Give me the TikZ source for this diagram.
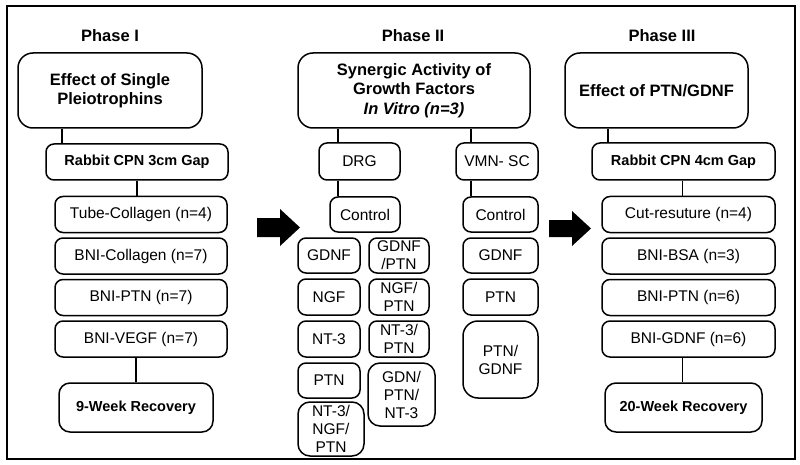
\documentclass[tikz,border=0pt]{standalone}
\usepackage{fontspec}
\setmainfont{Liberation Sans}
\begin{document}
\begin{tikzpicture}[x=1pt,y=-1pt,
  box/.style={draw, line width=1.5pt, rounded corners=8pt, inner sep=0pt, align=center,
    font=\fontsize{15.5}{18}\selectfont},
  bbox/.style={box, font=\bfseries\fontsize{14.5}{17.5}\selectfont},
  titlebox/.style={box, rounded corners=15pt, font=\bfseries\fontsize{16.5}{19.5}\selectfont},
  phase/.style={inner sep=0pt, font=\bfseries\fontsize{16.5}{19.5}\selectfont},
  link/.style={line width=1.8pt},
  blockarrow/.style={fill=black}]
\useasboundingbox (0,0) rectangle (800,465);
\draw[line width=2pt] (7,6) rectangle (795,459);

% Phase I
\node[phase] (ph1) at (110,36) {Phase I};
\node[titlebox, minimum width=184pt, minimum height=75pt] (t1) at (110,90.5) {Effect of Single\\Pleiotrophins};
\node[bbox, minimum width=182pt, minimum height=36pt] (r1) at (137,162) {Rabbit CPN 3cm Gap};
\node[box, minimum width=172pt, minimum height=36pt] (a1) at (141,214.5) {Tube-Collagen (n=4)};
\node[box, minimum width=172pt, minimum height=36pt] (a2) at (141,256) {BNI-Collagen (n=7)};
\node[box, minimum width=172pt, minimum height=36pt] (a3) at (141,297.5) {BNI-PTN (n=7)};
\node[box, minimum width=172pt, minimum height=36pt] (a4) at (141,339) {BNI-VEGF (n=7)};
\node[bbox, rounded corners=11pt, minimum width=154pt, minimum height=49pt] (w1) at (136,407.5) {9-Week Recovery};
\draw[link] ([xshift=-48pt]t1.south) -- ([xshift=-48pt]t1.south |- r1.north);
\draw[link] (r1.south) -- (r1.south |- a1.north);
\draw[link] (a4.south -| w1.north) -- (w1.north);

% Arrow I -> II
\fill[blockarrow] (257,218) -- (280,218) -- (280,209) -- (300,227.5) -- (280,246) -- (280,237) -- (257,237) -- cycle;

% Phase II
\node[phase] (ph2) at (413,36) {Phase II};
\node[titlebox, minimum width=232pt, minimum height=75pt] (t2) at (414,90.5) {Synergic Activity of\\Growth Factors\\\textit{In Vitro (n=3)}};
\node[box, minimum width=81pt, minimum height=37pt] (drg) at (359.5,161.5) {DRG};
\node[box, minimum width=70pt, minimum height=35pt] (ctl) at (365,214.5) {Control};
\node[box, minimum width=82pt, minimum height=37pt] (vmn) at (497,161.5) {VMN- SC};
\node[box, minimum width=75pt, minimum height=35pt] (ctr) at (500.5,214.5) {Control};
\draw[link] ([xshift=-76pt]t2.south) -- ([xshift=-76pt]t2.south |- drg.north);
\draw[link] ([xshift=-21.5pt]drg.south) -- ([xshift=-21.5pt]drg.south |- ctl.north);
\draw[link] ([xshift=57pt]t2.south) -- ([xshift=57pt]t2.south |- vmn.north);
\draw[link] ([xshift=-26pt]vmn.south) -- ([xshift=-26pt]vmn.south |- ctr.north);

\node[box, minimum width=62pt, minimum height=35pt] (g1) at (329,255.5) {GDNF};
\node[box, minimum width=62pt, minimum height=36pt] (g2) at (329,297) {NGF};
\node[box, minimum width=62pt, minimum height=36pt] (g3) at (329,339) {NT-3};
\node[box, minimum width=62pt, minimum height=35pt] (g4) at (329,380.5) {PTN};
\node[box, rounded corners=12pt, minimum width=66pt, minimum height=54pt] (g5) at (331,429) {NT-3/\\NGF/\\PTN};
\node[box, minimum width=60pt, minimum height=35pt] (h1) at (399,255.5) {GDNF\\/PTN};
\node[box, minimum width=60pt, minimum height=36pt] (h2) at (399,297) {NGF/\\PTN};
\node[box, minimum width=60pt, minimum height=36pt] (h3) at (399,339) {NT-3/\\PTN};
\node[box, rounded corners=12pt, minimum width=67pt, minimum height=63pt] (h4) at (401.5,394.5) {GDN/\\PTN/\\NT-3};

\node[box, minimum width=75pt, minimum height=35pt] (v1) at (500.5,255.5) {GDNF};
\node[box, minimum width=75pt, minimum height=36pt] (v2) at (500.5,297) {PTN};
\node[box, rounded corners=15pt, minimum width=75pt, minimum height=77pt] (v3) at (500.5,359.5) {PTN/\\GDNF};

% Arrow II -> III
\fill[blockarrow] (549,220) -- (572,220) -- (572,211) -- (591,228.5) -- (572,246) -- (572,237) -- (549,237) -- cycle;

% Phase III
\node[phase] (ph3) at (662,36) {Phase III};
\node[titlebox, minimum width=183pt, minimum height=75pt] (t3) at (656.5,90.5) {Effect of PTN/GDNF};
\node[bbox, minimum width=183pt, minimum height=37pt] (r3) at (683.5,161.5) {Rabbit CPN 4cm Gap};
\node[box, minimum width=173pt, minimum height=36pt] (b1) at (688.5,214.5) {Cut-resuture (n=4)};
\node[box, minimum width=173pt, minimum height=36pt] (b2) at (688.5,256) {BNI-BSA (n=3)};
\node[box, minimum width=173pt, minimum height=36pt] (b3) at (688.5,297.5) {BNI-PTN (n=6)};
\node[box, minimum width=173pt, minimum height=36pt] (b4) at (688.5,339) {BNI-GDNF (n=6)};
\node[bbox, rounded corners=11pt, minimum width=157pt, minimum height=49pt] (w3) at (683.5,407.5) {20-Week Recovery};
\draw[link] ([xshift=-48.5pt]t3.south) -- ([xshift=-48.5pt]t3.south |- r3.north);
\draw[link] ([xshift=-1pt]r3.south) -- ([xshift=-1pt]r3.south |- b1.north);
\draw[link] ([xshift=-1pt]w3.north |- b4.south) -- ([xshift=-1pt]w3.north);
\end{tikzpicture}
\end{document}
